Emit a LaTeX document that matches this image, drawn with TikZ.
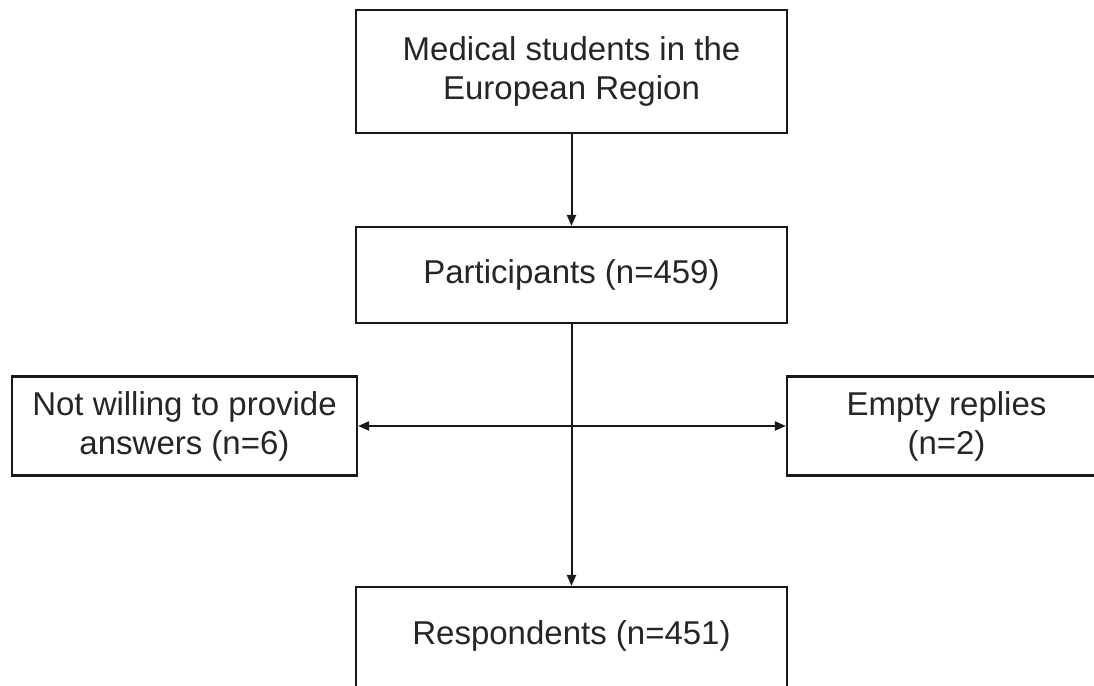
\documentclass[tikz,border=0pt]{standalone}
\usepackage{fontspec}
\setmainfont{Liberation Sans}
\usetikzlibrary{arrows.meta}
\begin{document}
\begin{tikzpicture}[x=1pt,y=-1pt,
  box/.style={draw=black!90, line width=2.2pt, rectangle, align=center, text=black!85,
    font=\fontsize{33}{39}\selectfont, inner sep=0pt},
  txt/.style={align=center, text=black!85, font=\fontsize{33}{39}\selectfont, inner sep=0pt},
  conn/.style={draw=black!90, line width=2pt, -{Triangle[length=11pt,width=9pt]}}]
\useasboundingbox (0,0) rectangle (1094,685);
\clip (0,0) rectangle (1094,685);
\fill[white] (0,0) rectangle (1094,685);
\node[box, minimum width=431pt, minimum height=123pt] (src) at (571.5,71.5) {Medical students in the\\European Region};
\node[box, minimum width=431pt, minimum height=96pt] (part) at (571.5,275) {Participants (n=459)};
\node[box, minimum width=345pt, minimum height=99pt] (notw) at (184.5,426) {Not willing to provide\\answers (n=6)};
\node[box, minimum width=380pt, minimum height=99pt] (empty) at (977,426) {};
\node[txt] (emptytxt) at (946.5,426) {Empty replies\\(n=2)};
\node[box, minimum width=431pt, minimum height=110pt] (resp) at (571.5,642) {};
\node[txt] (resptxt) at (571.5,636) {Respondents (n=451)};
\draw[conn] (src.south) -- (part.north);
\draw[conn] (part.south) -- (resp.north);
\draw[conn, {Triangle[length=11pt,width=9pt]}-{Triangle[length=11pt,width=9pt]}] (notw.east) -- (empty.west);
\end{tikzpicture}
\end{document}
